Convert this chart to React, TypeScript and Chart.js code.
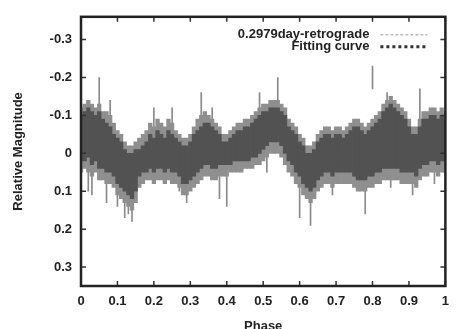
import React, { useEffect, useRef } from "react";
import { Chart, registerables } from "chart.js";
Chart.register(...registerables);

// Phase grid (columns of the observed band)
const phases = [
  0.0, 0.01, 0.02, 0.03, 0.04, 0.05, 0.06, 0.07, 0.08, 0.09,
  0.1, 0.11, 0.12, 0.13, 0.14, 0.15, 0.16, 0.17, 0.18, 0.19,
  0.2, 0.21, 0.22, 0.23, 0.24, 0.25, 0.26, 0.27, 0.28, 0.29,
  0.3, 0.31, 0.32, 0.33, 0.34, 0.35, 0.36, 0.37, 0.38, 0.39,
  0.4, 0.41, 0.42, 0.43, 0.44, 0.45, 0.46, 0.47, 0.48, 0.49,
  0.5, 0.51, 0.52, 0.53, 0.54, 0.55, 0.56, 0.57, 0.58, 0.59,
  0.6, 0.61, 0.62, 0.63, 0.64, 0.65, 0.66, 0.67, 0.68, 0.69,
  0.7, 0.71, 0.72, 0.73, 0.74, 0.75, 0.76, 0.77, 0.78, 0.79,
  0.8, 0.81, 0.82, 0.83, 0.84, 0.85, 0.86, 0.87, 0.88, 0.89,
  0.9, 0.91, 0.92, 0.93, 0.94, 0.95, 0.96, 0.97, 0.98, 0.99,
  1.0,
];

// Dense core of observed magnitudes (upper / lower edge)
const coreTop = [
  -0.1, -0.11, -0.12, -0.11, -0.1, -0.11, -0.09, -0.08, -0.07, -0.05,
  -0.04, -0.03, -0.01, 0.0, 0.0, -0.01, -0.01, -0.02, -0.03, -0.05,
  -0.04, -0.06, -0.05, -0.04, -0.06, -0.05, -0.04, -0.03, -0.02, -0.02,
  -0.03, -0.05, -0.06, -0.07, -0.08, -0.08, -0.07, -0.06, -0.05, -0.03,
  -0.03, -0.04, -0.05, -0.06, -0.06, -0.07, -0.07, -0.08, -0.09, -0.1,
  -0.11, -0.11, -0.12, -0.12, -0.12, -0.11, -0.1, -0.07, -0.06, -0.05,
  -0.03, -0.02, 0.0, 0.0, -0.01, -0.03, -0.04, -0.05, -0.05, -0.04,
  -0.05, -0.05, -0.04, -0.05, -0.06, -0.07, -0.07, -0.06, -0.05, -0.06,
  -0.07, -0.08, -0.09, -0.11, -0.12, -0.13, -0.12, -0.11, -0.1, -0.09,
  -0.07, -0.05, -0.05, -0.07, -0.09, -0.09, -0.1, -0.1, -0.09, -0.1,
  -0.09,
];
const coreBottom = [
  0.02, 0.02, 0.01, 0.03, 0.02, 0.04, 0.04, 0.05, 0.05, 0.06,
  0.08, 0.09, 0.1, 0.11, 0.12, 0.1, 0.06, 0.05, 0.05, 0.04,
  0.05, 0.04, 0.04, 0.05, 0.04, 0.05, 0.05, 0.06, 0.08, 0.08,
  0.07, 0.06, 0.05, 0.04, 0.03, 0.03, 0.04, 0.04, 0.03, 0.03,
  0.03, 0.03, 0.02, 0.02, 0.02, 0.02, 0.02, 0.01, 0.01, 0.0,
  -0.01, -0.02, -0.03, -0.03, -0.03, -0.02, 0.0, 0.02, 0.03, 0.05,
  0.06, 0.08, 0.09, 0.1, 0.09, 0.07, 0.06, 0.05, 0.05, 0.06,
  0.05, 0.05, 0.05, 0.05, 0.05, 0.06, 0.07, 0.07, 0.07, 0.06,
  0.06, 0.05, 0.05, 0.04, 0.04, 0.04, 0.04, 0.04, 0.05, 0.05,
  0.05, 0.05, 0.06, 0.04, 0.03, 0.03, 0.02, 0.02, 0.03, 0.02,
  0.02,
];

// Sparser outer fringe of observations
const fringeTop = [
  -0.12, -0.13, -0.14, -0.13, -0.12, -0.13, -0.11, -0.11, -0.1, -0.08,
  -0.06, -0.05, -0.03, -0.02, -0.02, -0.03, -0.04, -0.05, -0.06, -0.08,
  -0.07, -0.09, -0.08, -0.07, -0.09, -0.08, -0.06, -0.05, -0.04, -0.04,
  -0.05, -0.07, -0.09, -0.1, -0.11, -0.1, -0.09, -0.08, -0.07, -0.05,
  -0.05, -0.06, -0.07, -0.08, -0.08, -0.09, -0.09, -0.1, -0.11, -0.12,
  -0.13, -0.13, -0.14, -0.14, -0.14, -0.13, -0.12, -0.09, -0.08, -0.07,
  -0.05, -0.04, -0.02, -0.02, -0.03, -0.05, -0.06, -0.07, -0.07, -0.06,
  -0.07, -0.07, -0.06, -0.07, -0.08, -0.09, -0.09, -0.08, -0.07, -0.08,
  -0.09, -0.1, -0.11, -0.13, -0.14, -0.15, -0.14, -0.13, -0.12, -0.11,
  -0.09, -0.07, -0.07, -0.09, -0.11, -0.11, -0.12, -0.12, -0.11, -0.12,
  -0.11,
];
const fringeBottom = [
  0.05, 0.04, 0.05, 0.06, 0.05, 0.07, 0.07, 0.08, 0.08, 0.09,
  0.11, 0.12, 0.13, 0.14, 0.15, 0.13, 0.09, 0.08, 0.07, 0.07,
  0.08, 0.07, 0.07, 0.08, 0.07, 0.08, 0.08, 0.09, 0.11, 0.11,
  0.1, 0.09, 0.08, 0.07, 0.06, 0.06, 0.07, 0.07, 0.06, 0.06,
  0.06, 0.05, 0.05, 0.05, 0.05, 0.04, 0.04, 0.04, 0.03, 0.03,
  0.02, 0.01, 0.0, 0.0, 0.0, 0.01, 0.03, 0.05, 0.06, 0.08,
  0.09, 0.11, 0.12, 0.13, 0.12, 0.1, 0.09, 0.08, 0.08, 0.09,
  0.08, 0.08, 0.08, 0.08, 0.08, 0.09, 0.1, 0.1, 0.1, 0.09,
  0.09, 0.08, 0.08, 0.07, 0.07, 0.07, 0.07, 0.07, 0.08, 0.08,
  0.08, 0.08, 0.09, 0.07, 0.06, 0.06, 0.05, 0.05, 0.06, 0.05,
  0.05,
];

// Isolated long error bars
const spikePhases = [
  0.02, 0.03, 0.05, 0.07, 0.08, 0.1, 0.12, 0.13, 0.14, 0.2,
  0.25, 0.27, 0.29, 0.33, 0.36, 0.38, 0.4, 0.49, 0.51, 0.54,
  0.6, 0.63, 0.69, 0.78, 0.8, 0.84, 0.85, 0.91, 0.93, 0.97,
];
const spikeTop = [
  0.01, 0.03, -0.2, 0.05, -0.14, 0.07, 0.09, 0.1, 0.12, -0.12,
  -0.12, 0.06, 0.08, -0.16, -0.12, 0.03, 0.04, -0.16, -0.01, -0.2,
  0.06, 0.09, 0.06, 0.07, -0.23, -0.16, 0.04, 0.05, -0.17, 0.02,
];
const spikeBottom = [
  0.1, 0.11, -0.1, 0.13, -0.09, 0.14, 0.17, 0.16, 0.18, -0.05,
  -0.06, 0.1, 0.13, -0.08, -0.08, 0.12, 0.14, -0.11, 0.05, -0.13,
  0.17, 0.19, 0.11, 0.16, -0.17, -0.12, 0.09, 0.11, -0.09, 0.08,
];

// Fitting curve
const fitPhases = [
  0.0, 0.05, 0.1, 0.15, 0.2, 0.25, 0.3, 0.35, 0.4, 0.45, 0.5,
  0.55, 0.6, 0.65, 0.7, 0.75, 0.8, 0.85, 0.9, 0.95, 1.0,
];
const fitValues = [
  -0.04, -0.035, 0.02, 0.04, 0.0, 0.0, 0.02, -0.025, 0.0, -0.025, -0.055,
  -0.07, 0.015, 0.02, 0.0, 0.0, -0.005, -0.045, -0.01, -0.03, -0.035,
];

// Axes
const xTickValues = [0, 0.1, 0.2, 0.3, 0.4, 0.5, 0.6, 0.7, 0.8, 0.9, 1];
const xTickLabels = ["0", "0.1", "0.2", "0.3", "0.4", "0.5", "0.6", "0.7", "0.8", "0.9", "1"];
const yTickValues = [-0.3, -0.2, -0.1, 0, 0.1, 0.2, 0.3];
const yTickLabels = ["-0.3", "-0.2", "-0.1", "0", "0.1", "0.2", "0.3"];

const seriesName = "0.2979day-retrograde";
const fitName = "Fitting curve";
const xTitle = "Phase";
const yTitle = "Relative Magnitude";

const FONT = "'Liberation Sans', Arial, sans-serif";

const decorPlugin = {
  id: "decor",
  afterDraw(chart: any) {
    const { ctx, chartArea, scales } = chart;
    const { left, right, top, bottom } = chartArea;
    ctx.save();
    // inner ticks
    ctx.strokeStyle = "#333";
    ctx.lineWidth = 1.5;
    ctx.beginPath();
    xTickValues.forEach((v) => {
      const px = scales.x.getPixelForValue(v);
      ctx.moveTo(px, bottom);
      ctx.lineTo(px, bottom - 5);
      ctx.moveTo(px, top);
      ctx.lineTo(px, top + 5);
    });
    yTickValues.forEach((v) => {
      const py = scales.y.getPixelForValue(v);
      ctx.moveTo(left, py);
      ctx.lineTo(left + 5, py);
      ctx.moveTo(right, py);
      ctx.lineTo(right - 5, py);
    });
    ctx.stroke();
    // frame
    ctx.strokeStyle = "#222";
    ctx.lineWidth = 2.5;
    ctx.strokeRect(left, top, right - left, bottom - top);
    // legend
    ctx.fillStyle = "#222";
    ctx.font = `bold 13px ${FONT}`;
    ctx.textAlign = "right";
    ctx.textBaseline = "middle";
    ctx.fillText(seriesName, right - 76, top + 18);
    ctx.fillText(fitName, right - 76, top + 30);
    ctx.strokeStyle = "#bbb";
    ctx.lineWidth = 1.5;
    ctx.setLineDash([3, 2]);
    ctx.beginPath();
    ctx.moveTo(right - 65, top + 18);
    ctx.lineTo(right - 18, top + 18);
    ctx.stroke();
    ctx.strokeStyle = "#333";
    ctx.lineWidth = 3;
    ctx.setLineDash([3, 3]);
    ctx.beginPath();
    ctx.moveTo(right - 65, top + 30);
    ctx.lineTo(right - 18, top + 30);
    ctx.stroke();
    ctx.setLineDash([]);
    // axis titles
    ctx.textAlign = "center";
    ctx.fillText(xTitle, (left + right) / 2, 326);
    ctx.translate(18, (top + bottom) / 2);
    ctx.rotate(-Math.PI / 2);
    ctx.fillText(yTitle, 0, 0);
    ctx.restore();
  },
};

export default function App() {
  const ref = useRef<HTMLCanvasElement>(null);
  useEffect(() => {
    const canvas = ref.current!;
    const chart = new Chart(canvas, {
      type: "bar",
      data: {
        datasets: [
          {
            label: seriesName + " core",
            data: phases.map((x, i) => ({ x, y: [coreTop[i], coreBottom[i]] })),
            backgroundColor: "#525252",
            borderWidth: 0,
            barPercentage: 1,
            categoryPercentage: 1,
            grouped: false,
            order: 1,
          } as any,
          {
            type: "line",
            label: fitName,
            data: fitPhases.map((x, i) => ({ x, y: fitValues[i] })),
            borderColor: "#3a3a3a",
            borderWidth: 1.5,
            borderDash: [2, 2],
            pointRadius: 0,
            tension: 0.4,
            order: 2,
          } as any,
          {
            label: seriesName + " fringe",
            data: phases.map((x, i) => ({ x, y: [fringeTop[i], fringeBottom[i]] })),
            backgroundColor: "#8f8f8f",
            borderWidth: 0,
            barPercentage: 1,
            categoryPercentage: 1,
            grouped: false,
            order: 3,
          } as any,
          {
            label: seriesName,
            data: spikePhases.map((x, i) => ({ x, y: [spikeTop[i], spikeBottom[i]] })),
            backgroundColor: "#8a8a8a",
            borderWidth: 0,
            barThickness: 1,
            grouped: false,
            order: 4,
          } as any,
        ],
      },
      options: {
        responsive: false,
        animation: false,
        events: [],
        layout: { padding: { top: 15, right: 7, left: 0, bottom: 0 } },
        plugins: { legend: { display: false }, tooltip: { enabled: false } },
        scales: {
          x: {
            type: "linear",
            min: 0,
            max: 1,
            offset: false,
            grid: { display: false, drawTicks: false },
            border: { display: false },
            afterBuildTicks: (s: any) => {
              s.ticks = xTickValues.map((value) => ({ value }));
            },
            afterFit: (s: any) => {
              s.height = 43;
            },
            ticks: {
              autoSkip: false,
              maxRotation: 0,
              padding: 8,
              color: "#222",
              font: { family: FONT, size: 13, weight: "bold" },
              callback: (_v: any, i: number) => xTickLabels[i],
            },
          },
          y: {
            type: "linear",
            reverse: true,
            min: -0.36,
            max: 0.35,
            grid: { display: false, drawTicks: false },
            border: { display: false },
            afterBuildTicks: (s: any) => {
              s.ticks = yTickValues.map((value) => ({ value }));
            },
            afterFit: (s: any) => {
              s.width = 81;
            },
            ticks: {
              padding: 9,
              color: "#222",
              font: { family: FONT, size: 13, weight: "bold" },
              callback: (_v: any, i: number) => yTickLabels[i],
            },
          },
        },
      } as any,
      plugins: [decorPlugin],
    });
    return () => chart.destroy();
  }, []);
  return (
    <div style={{ position: "fixed", left: 0, top: 0, width: 457, height: 329, background: "#fff" }}>
      <canvas ref={ref} width={457} height={329} style={{ width: 457, height: 329, display: "block" }} />
    </div>
  );
}
